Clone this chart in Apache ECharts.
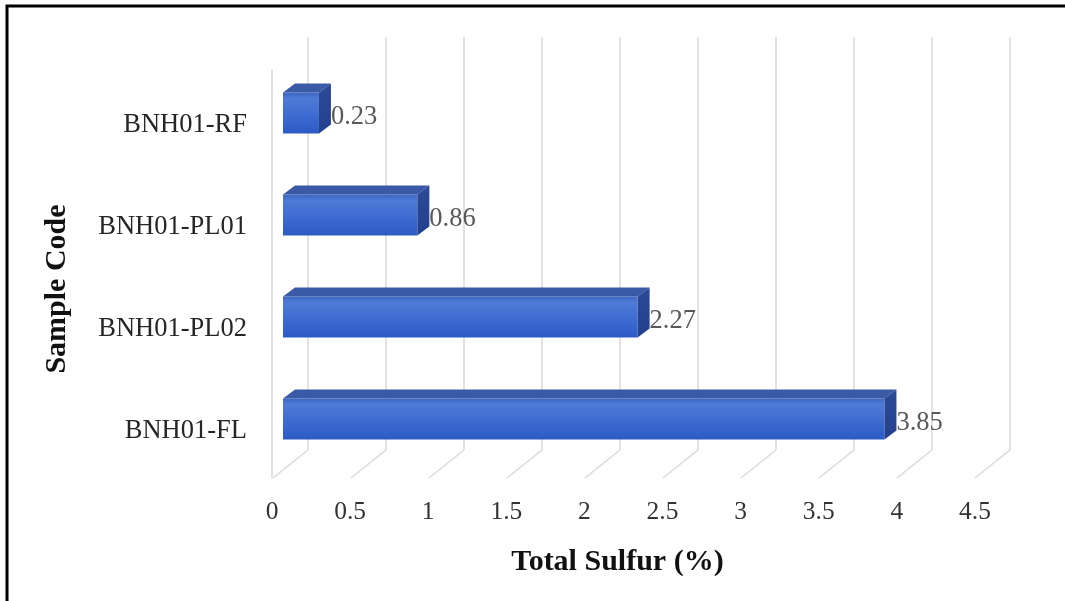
<!DOCTYPE html>
<html>
<head>
<meta charset="utf-8">
<script src="https://cdn.jsdelivr.net/npm/echarts@6/dist/echarts.min.js"></script>
<style>
  html, body { margin: 0; padding: 0; background: #fff; }
  #main { width: 1065px; height: 601px; }
</style>
</head>
<body>
<div id="main"></div>
<script>
let categories = ['BNH01-RF', 'BNH01-PL01', 'BNH01-PL02', 'BNH01-FL'];
let sulfur = [0.23, 0.86, 2.27, 3.85];
let ticks = [0, 0.5, 1, 1.5, 2, 2.5, 3, 3.5, 4, 4.5];

let serif = "'Liberation Serif', 'DejaVu Serif', serif";
let gridColor = '#d9d9d9';

let myChart = echarts.init(document.getElementById('main'));

// 3D bar: front face + top face + right side face
function renderBar(params, api) {
    let v = api.value(0);
    let start = api.coord([0, api.value(1)]);
    let end = api.coord([v, api.value(1)]);
    let h = api.size([0, 1])[1] * 0.4;
    let dx = 12, dy = 9;
    let x = start[0], y = end[1] - h / 2, w = end[0] - start[0];
    return {
        type: 'group',
        children: [
            {
                type: 'rect',
                shape: {x: x, y: y, width: w, height: h},
                style: {
                    fill: new echarts.graphic.LinearGradient(0, 0, 0, 1, [
                        {offset: 0, color: '#3e66c2'},
                        {offset: 0.15, color: '#4e7bd6'},
                        {offset: 0.6, color: '#3c69cf'},
                        {offset: 1, color: '#2c5bc6'}
                    ])
                }
            },
            {
                type: 'polygon',
                shape: {points: [[x, y], [x + dx, y - dy], [x + w + dx, y - dy], [x + w, y]]},
                style: {fill: '#3a5aa6'}
            },
            {
                type: 'polygon',
                shape: {points: [[x + w, y], [x + w + dx, y - dy], [x + w + dx, y + h - dy], [x + w, y + h]]},
                style: {
                    fill: new echarts.graphic.LinearGradient(0, 0, 0, 1, [
                        {offset: 0, color: '#2c4a98'},
                        {offset: 1, color: '#22408c'}
                    ])
                }
            },
            {
                type: 'text',
                style: {
                    text: String(v),
                    x: x + w + dx,
                    y: y + h / 2 + 4,
                    align: 'left',
                    verticalAlign: 'middle',
                    font: '26.5px ' + serif,
                    fill: '#595959'
                }
            }
        ]
    };
}

// floor lines running from the back wall to the front edge
function renderFloor(params, api) {
    let cs = params.coordSys;
    let x = api.coord([api.value(0), 0])[0];
    let bottom = cs.y + cs.height;
    return {
        type: 'line',
        shape: {x1: x, y1: bottom, x2: x - 35, y2: bottom + 28},
        style: {stroke: gridColor, lineWidth: 1.5}
    };
}

let option = {
    animation: false,
    backgroundColor: '#fff',
    graphic: [{
        type: 'polyline',
        shape: {points: [[7, 620], [7, 6], [1080, 6]]},
        style: {stroke: '#000', lineWidth: 3, fill: null}
    }],
    grid: [
        {left: 308, top: 37, width: 702, height: 413},   // back wall
        {left: 272, top: 70, width: 703, height: 408},   // front edge
        {left: 283, top: 62, width: 703, height: 408},   // bars
        {left: 272, top: 74, width: 703, height: 408}    // category labels
    ],
    xAxis: [
        {
            gridIndex: 0, type: 'value', min: 0, max: 4.5, interval: 0.5,
            axisLabel: {show: false}, axisLine: {show: false}, axisTick: {show: false},
            splitLine: {show: true, lineStyle: {color: gridColor, width: 1.5}}
        },
        {
            gridIndex: 1, type: 'value', min: 0, max: 4.5, interval: 0.5,
            axisLine: {show: false}, axisTick: {show: false}, splitLine: {show: false},
            axisLabel: {fontFamily: serif, fontSize: 25.5, color: '#333', margin: 21},
            name: 'Total Sulfur (%)', nameLocation: 'middle', nameGap: 69,
            nameTextStyle: {fontFamily: serif, fontSize: 30, fontWeight: 'bold', color: '#111', padding: [0, 12, 0, 0]}
        },
        {
            gridIndex: 2, type: 'value', min: 0, max: 4.5, show: false
        },
        {
            gridIndex: 3, type: 'value', min: 0, max: 4.5, show: false
        }
    ],
    yAxis: [
        {
            gridIndex: 0, type: 'category', data: categories, inverse: true, show: false
        },
        {
            gridIndex: 1, type: 'category', data: categories, inverse: true,
            axisLine: {show: true, lineStyle: {color: gridColor, width: 1.5}},
            axisTick: {show: false}, splitLine: {show: false}, axisLabel: {show: false}
        },
        {
            gridIndex: 2, type: 'category', data: categories, inverse: true, show: false
        },
        {
            gridIndex: 3, type: 'category', data: categories, inverse: true,
            axisLine: {show: false}, axisTick: {show: false}, splitLine: {show: false},
            axisLabel: {fontFamily: serif, fontSize: 26.5, color: '#262626', margin: 25},
            name: 'Sample Code', nameLocation: 'middle', nameGap: 200, nameRotate: 90,
            nameTextStyle: {fontFamily: serif, fontSize: 30, fontWeight: 'bold', color: '#111', padding: [0, 22, 0, 0]}
        }
    ],
    series: [
        {
            name: 'floor',
            type: 'custom',
            xAxisIndex: 0,
            yAxisIndex: 0,
            renderItem: renderFloor,
            encode: {x: 0, y: 1},
            data: ticks.map(function (t) { return [t, 0]; }),
            silent: true
        },
        {
            name: 'Total Sulfur',
            type: 'custom',
            xAxisIndex: 2,
            yAxisIndex: 2,
            renderItem: renderBar,
            encode: {x: 0, y: 1},
            data: sulfur.map(function (v, i) { return [v, i]; })
        }
    ]
};

myChart.setOption(option);
</script>
</body>
</html>
